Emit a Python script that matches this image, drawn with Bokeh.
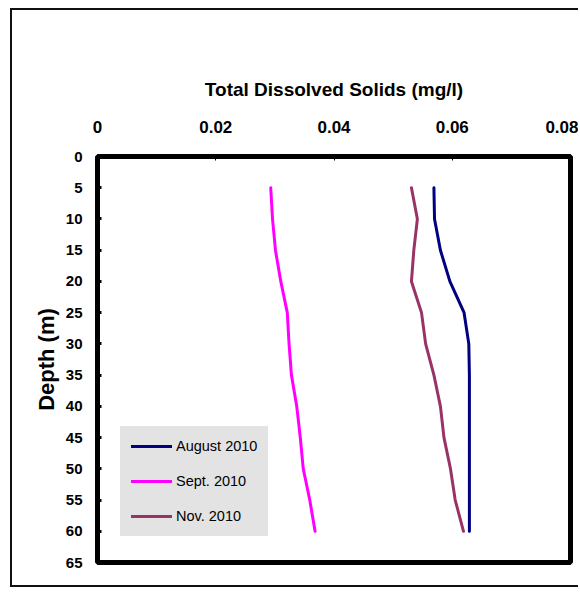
from bokeh.plotting import figure
from bokeh.models import FixedTicker, Legend, LegendItem, Range1d
from bokeh.embed import file_html
from bokeh.resources import INLINE

# ---- data ----
depth = [5, 10, 15, 20, 25, 30, 35, 40, 45, 50, 55, 60]
aug_2010 = [0.0569, 0.0570, 0.0580, 0.0596, 0.0620, 0.0628, 0.0629, 0.0629, 0.0629, 0.0629, 0.0629, 0.0629]
sep_2010 = [0.0293, 0.0296, 0.0301, 0.0310, 0.0321, 0.0324, 0.0328, 0.0337, 0.0343, 0.0348, 0.0359, 0.0368]
nov_2010 = [0.0531, 0.0541, 0.0535, 0.0531, 0.0548, 0.0555, 0.0569, 0.0580, 0.0586, 0.0597, 0.0605, 0.0619]
series_names = ["August 2010", "Sept. 2010", "Nov. 2010"]
series_colors = ["#000080", "#FF00FF", "#993366"]
x_ticks = [0, 0.02, 0.04, 0.06, 0.08]
x_tick_labels = ["0", "0.02", "0.04", "0.06", "0.08"]
y_ticks = list(range(0, 70, 5))

FONT = "Liberation Sans"

p = figure(width=568, height=579, output_backend="svg", toolbar_location=None,
           x_axis_location="above",
           x_range=Range1d(0, 0.08), y_range=Range1d(65, 0),
           min_border_left=85, min_border_right=10, min_border_top=146, min_border_bottom=27)
p.styles = {"border-left": "2px solid #111111", "border-top": "2px solid #111111",
            "border-bottom": "2px solid #111111",
            "margin-left": "10px", "margin-top": "8px"}

p.xgrid.visible = False
p.ygrid.visible = False
p.outline_line_color = "black"
p.outline_line_width = 5
p.background_fill_color = "white"
p.border_fill_color = "white"

xa = p.xaxis[0]
xa.ticker = FixedTicker(ticks=x_ticks)
xa.major_label_overrides = {t: s for t, s in zip(x_ticks, x_tick_labels)}
xa.axis_line_color = None
xa.major_tick_in = 4
xa.major_tick_out = 0
xa.major_tick_line_width = 1
xa.minor_tick_line_color = None
xa.major_label_text_font = FONT
xa.major_label_text_font_style = "bold"
xa.major_label_text_font_size = "17px"
xa.major_label_text_color = "black"
xa.major_label_standoff = 24
xa.axis_label = "Total Dissolved Solids (mg/l)"
xa.axis_label_text_font = FONT
xa.axis_label_text_font_style = "bold"
xa.axis_label_text_font_size = "19px"
xa.axis_label_text_color = "black"
xa.axis_label_standoff = 18

ya = p.yaxis[0]
ya.ticker = FixedTicker(ticks=y_ticks)
ya.axis_line_color = None
ya.major_tick_in = 4
ya.major_tick_out = 0
ya.major_tick_line_width = 3
ya.minor_tick_line_color = None
ya.major_label_text_font = FONT
ya.major_label_text_font_style = "bold"
ya.major_label_text_font_size = "15px"
ya.major_label_text_color = "black"
ya.major_label_standoff = 15
ya.axis_label = "Depth (m)"
ya.axis_label_text_font = FONT
ya.axis_label_text_font_style = "bold"
ya.axis_label_text_font_size = "22px"
ya.axis_label_text_color = "black"
ya.axis_label_standoff = 4

items = []
for name, col, xs in zip(series_names, series_colors, [aug_2010, sep_2010, nov_2010]):
    r = p.line(xs, depth, line_color=col, line_width=3, line_join="round", line_cap="round")
    items.append(LegendItem(label=name, renderers=[r]))

legend = Legend(items=items, location=(23, 26), margin=0, padding=10, spacing=17,
                glyph_width=41, glyph_height=18, label_height=18, label_standoff=4,
                label_text_font=FONT, label_text_font_size="14.5px",
                label_text_color="black",
                background_fill_color="#E3E3E3", background_fill_alpha=1.0,
                border_line_color="#E3E3E3", border_line_width=1, border_line_alpha=1.0)
p.add_layout(legend)

open("out.html", "w").write(file_html(p, INLINE))
